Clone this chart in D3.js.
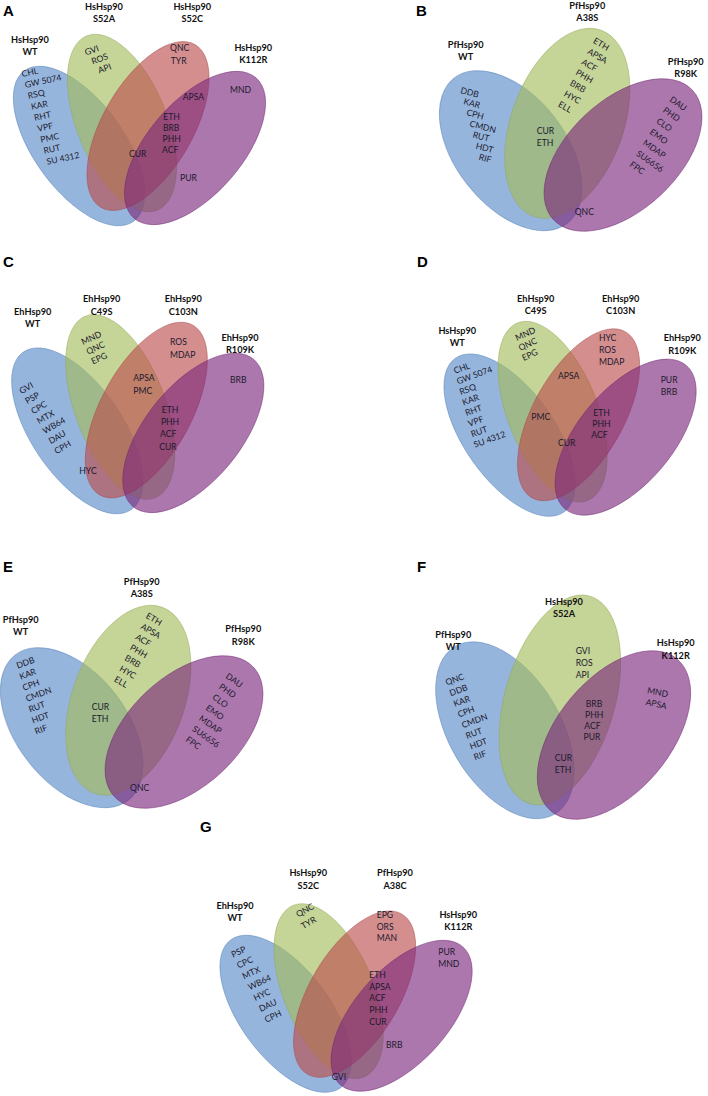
<!DOCTYPE html>
<html><head><meta charset="utf-8">
<script src="https://cdn.jsdelivr.net/npm/d3@7"></script>
<style>body{margin:0;background:#fff}</style>
</head><body><svg id="c" width="708" height="1096"></svg>
<script>
// ================= DATA =================
const panelLetters = ["A","B","C","D","E","F","G"];

// Panel A
const setsA = [["HsHsp90","WT"],["HsHsp90","S52A"],["HsHsp90","S52C"],["HsHsp90","K112R"]];
const groupsA = [["CHL","GW 5074","RSQ","KAR","RHT","VPF","PMC","RUT","SU 4312"],["GVI","ROS","API"],["QNC","TYR"],["MND"],["APSA"],["ETH","BRB","PHH","ACF"],["CUR"],["PUR"]];
// Panel B
const setsB = [["PfHsp90","WT"],["PfHsp90","A38S"],["PfHsp90","R98K"]];
const groupsB = [["DDB","KAR","CPH","CMDN","RUT","HDT","RIF"],["ETH","APSA","ACF","PHH","BRB","HYC","ELL"],["DAU","PHD","CLO","EMO","MDAP","SU6656","FPC"],["CUR","ETH"],["QNC"]];
// Panel C
const setsC = [["EhHsp90","WT"],["EhHsp90","C49S"],["EhHsp90","C103N"],["EhHsp90","R109K"]];
const groupsC = [["GVI","PSP","CPC","MTX","WB64","DAU","CPH"],["MND","QNC","EPG"],["ROS","MDAP"],["BRB"],["APSA","PMC"],["ETH","PHH","ACF","CUR"],["HYC"]];
// Panel D
const setsD = [["HsHsp90","WT"],["EhHsp90","C49S"],["EhHsp90","C103N"],["EhHsp90","R109K"]];
const groupsD = [["CHL","GW 5074","RSQ","KAR","RHT","VPF","RUT","SU 4312"],["MND","QNC","EPG"],["HYC","ROS","MDAP"],["PUR","BRB"],["APSA"],["PMC"],["CUR"],["ETH","PHH","ACF"]];
// Panel E
const setsE = [["PfHsp90","WT"],["PfHsp90","A38S"],["PfHsp90","R98K"]];
const groupsE = [["DDB","KAR","CPH","CMDN","RUT","HDT","RIF"],["ETH","APSA","ACF","PHH","BRB","HYC","ELL"],["DAU","PHD","CLO","EMO","MDAP","SU6656","FPC"],["CUR","ETH"],["QNC"]];
// Panel F
const setsF = [["PfHsp90","WT"],["HsHsp90","S52A"],["HsHsp90","K112R"]];
const groupsF = [["QNC","DDB","KAR","CPH","CMDN","RUT","HDT","RIF"],["GVI","ROS","API"],["MND","APSA"],["BRB","PHH","ACF","PUR"],["CUR","ETH"]];
// Panel G
const setsG = [["EhHsp90","WT"],["HsHsp90","S52C"],["PfHsp90","A38C"],["HsHsp90","K112R"]];
const groupsG = [["PSP","CPC","MTX","WB64","HYC","DAU","CPH"],["QNC","TYR"],["EPG","ORS","MAN"],["PUR","MND"],["ETH","APSA","ACF","PHH","CUR"],["BRB"],["GVI"]];

// ================= STYLE / LAYOUT =================
const col4 = ["#5b8bc8","#a4bb5c","#bb4f4f","#7d2a7d"];
const col3 = ["#5b8bc8","#a4bb5c","#7d2a7d"];
// ellipse templates: [cx, cy, semiMajor, semiMinor, rotation]
const tpl4 = [[79,146,93,45,-36],[122,123,94,45,-22],[148,126,94,45,30],[195,148,93,47,41]];
const tpl3 = [[510.7,150.7,92,55,-38],[567.3,123.3,99,56,20],[623,155,95,55,47]];

const panels = [
 {letter:[3,16], tpl:tpl4, col:col4, tf:[0,0,1,1], sets:setsA, groups:groupsA,
  setPos:[[30,42.7],[104,10],[192.3,10],[253.3,51]],
  grpPos:[[21.7,74,3.13,10.97,-12],[85,52.7,6.67,9,-20],[170,48.3,0.7,12.7,0],[230,90,0,0,0],[182.7,96.7,0,0,0],[163.3,117.3,-0.4,11,0],[129,154,0,0,0],[180,178.3,0,0,0]]},
 {letter:[416,16], tpl:tpl3, col:col3, tf:[0,0,1,1], sets:setsB, groups:groupsB,
  setPos:[[465.7,48],[587.3,9],[685.7,64.7]],
  grpPos:[[460.7,90,3.06,11.1,15],[594,40,-5.83,10.56,30],[670.7,98.3,-6.67,10.83,35],[536.7,131,0,12.3,0],[574.7,211.7,0,0,0]]},
 {letter:[3,267], tpl:tpl4, col:col4, tf:[-1.7,279,1,1.04], sets:setsC, groups:groupsC,
  setPos:[[32.7,314.7],[101.7,302.3],[183.3,302.3],[240,340.7]],
  grpPos:[[20,391.7,5.83,10,-30],[81.7,342.3,5,9.7,-25],[170,342.3,0,12.7,0],[230,380,0,0,0],[133.3,378.3,0,12.7,0],[161.7,410,-0.8,12.2,0],[79.3,471,0,0,0]]},
 {letter:[417,267], tpl:tpl4, col:col4, tf:[430.6,286.5,1,1.018], sets:setsD, groups:groupsD,
  setPos:[[457.3,333.7],[535.7,302],[620.7,302],[682.3,341.3]],
  grpPos:[[454,371,2.86,10.57,-20],[515.7,338.3,3.33,10,-25],[599,338.3,0,12,0],[660.7,380,0,12.3,0],[558,375.7,0,0,0],[531.3,416.7,0,0,0],[558,443.3,0,0,0],[593.3,413.3,-1,10.8,0]]},
 {letter:[3,572], tpl:tpl3, col:col3, tf:[-439,577,1,1], sets:setsE, groups:groupsE,
  setPos:[[20.7,623],[141.7,584.7],[243.3,632.3]],
  grpPos:[[16.7,666,3.06,10.94,-20],[146.7,615,-5.28,10.56,30],[226.7,675,-6.67,10.56,35],[91.7,706.7,0,12.3,0],[130,788.3,0,0,0]]},
 {letter:[417,572], tpl:tpl3, col:col3, tf:[0,0,1,1], sets:setsF, groups:groupsF,
  setPos:[[453.3,638],[564,604.7],[675.7,646.3]],
  grpPos:[[445.7,682.7,4.05,10.67,-20],[575.7,650.7,0,12.3,0],[647.3,690,-1.5,11.7,12],[585.7,704,-0.7,11,0],[554.7,758.3,0,11.7,0]]},
 {letter:[200,832], tpl:tpl4, col:col4, tf:[206.6,870,1,0.985], sets:setsG, groups:groupsG,
  setPos:[[235,909],[308.3,876.3],[395,876.3],[458.3,918]],
  grpPos:[[231.7,955,5.56,10.83,-25],[296.7,915,5,11.7,-30],[376.7,915,0,11.7,0],[438.3,951.7,0,12.3,0],[369.3,975,0,11.67,0],[386,1045,0,0,0],[331.7,1076.7,0,0,0]]}
];
// panel F: stretched version of the 3-set template
const sxF = 0.971, syF = 1.105;
panels[5].tf = [435.7 - 439.4*sxF, 595 - 28.3*syF, sxF, syF];

// ================= DRAW =================
const svg = d3.select("#c");
panels.forEach((p, pi) => {
  const g = svg.append("g");
  const eg = g.append("g").attr("transform", `translate(${p.tf[0]},${p.tf[1]}) scale(${p.tf[2]},${p.tf[3]})`);
  eg.selectAll("ellipse").data(p.tpl).join("ellipse")
    .attr("transform", d => `translate(${d[0]},${d[1]}) rotate(${d[4]})`)
    .attr("rx", d => d[3]).attr("ry", d => d[2])
    .attr("fill", (d,i) => p.col[i]).attr("fill-opacity", 0.64)
    .attr("stroke", (d,i) => d3.color(p.col[i]).darker(0.3)).attr("stroke-opacity", 0.5)
    .attr("stroke-width", 1).attr("vector-effect", "non-scaling-stroke");
  g.append("text").attr("x", p.letter[0]).attr("y", p.letter[1])
    .attr("font-family", "Liberation Sans, Arial, sans-serif").attr("font-weight", "bold")
    .attr("font-size", 15).attr("fill", "#000").text(panelLetters[pi]);
  p.sets.forEach((s, i) => {
    const [x, y] = p.setPos[i];
    s.forEach((line, k) => {
      g.append("text").attr("x", x).attr("y", y + k*12.3)
        .attr("text-anchor", "middle").attr("font-family", "Lato, 'Open Sans', sans-serif")
        .attr("font-weight", "bold").attr("font-size", 9.2).attr("fill", "#111").text(line);
    });
  });
  p.groups.forEach((items, gi) => {
    const [x0, y0, dx, dy, rot] = p.grpPos[gi];
    items.forEach((t, k) => {
      const x = x0 + dx*k, y = y0 + dy*k;
      g.append("text").attr("transform", `translate(${x},${y}) rotate(${rot})`)
        .attr("dy", "0.35em").attr("font-family", "Lato, 'Open Sans', sans-serif")
        .attr("font-size", 8.6).attr("fill", "#1c1a2e").text(t);
    });
  });
});
</script>
</body></html>
